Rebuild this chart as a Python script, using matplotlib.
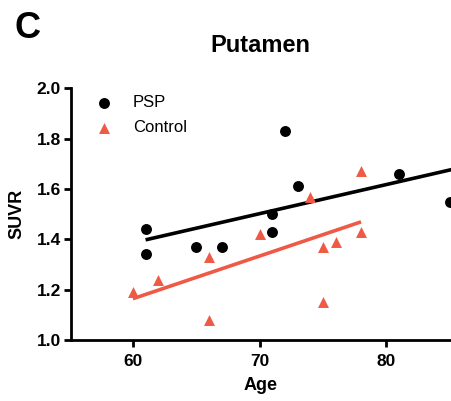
import numpy as np
import matplotlib
matplotlib.use("Agg")
import matplotlib.pyplot as plt

plt.rcParams["font.family"] = ["Liberation Sans", "DejaVu Sans"]

# PSP group
psp_age = [61, 61, 65, 67, 71, 71, 72, 73, 81, 85]
psp_suvr = [1.44, 1.34, 1.37, 1.37, 1.50, 1.43, 1.83, 1.61, 1.66, 1.55]

# Control group
ctl_age = [60, 62, 66, 66, 70, 74, 75, 75, 76, 78, 78]
ctl_suvr = [1.19, 1.24, 1.33, 1.08, 1.42, 1.57, 1.37, 1.15, 1.39, 1.67, 1.43]

x_ticks = [60, 70, 80]
y_ticks = [1.0, 1.2, 1.4, 1.6, 1.8, 2.0]

RED = "#EE5A45"

fig = plt.figure(figsize=(4.51, 4.01), dpi=100)
ax = fig.add_axes([0.157, 0.152, 0.843, 0.628])

ax.scatter(psp_age, psp_suvr, s=62, c="black", marker="o", zorder=3,
           label="PSP", linewidths=0)
ax.scatter(ctl_age, ctl_suvr, s=62, c=RED, marker="^", zorder=3,
           label="Control", linewidths=0)

# Linear regression fits over each group's age range
for ages, vals, col, x_end in ((psp_age, psp_suvr, "black", 86),
                               (ctl_age, ctl_suvr, RED, max(ctl_age))):
    slope, icpt = np.polyfit(ages, vals, 1)
    xs = np.array([min(ages), x_end])
    ax.plot(xs, slope * xs + icpt, color=col, lw=2.6, zorder=2,
            solid_capstyle="butt")

ax.set_xlim(55.1, 85.1)
ax.set_ylim(1.0, 2.0)
ax.set_xticks(x_ticks)
ax.set_yticks(y_ticks)
ax.set_yticklabels([f"{v:.1f}" for v in y_ticks])

for s in ("top", "right"):
    ax.spines[s].set_visible(False)
for s in ("left", "bottom"):
    ax.spines[s].set_linewidth(2.0)
ax.tick_params(direction="out", length=5, width=2.0, labelsize=12.5)
ax.tick_params(axis="x", pad=5)
ax.tick_params(axis="y", pad=2)
for lab in ax.get_xticklabels() + ax.get_yticklabels():
    lab.set_fontweight("bold")

ax.set_xlabel("Age", fontsize=13, fontweight="bold", labelpad=6)
ax.set_ylabel("SUVR", fontsize=13, fontweight="bold", labelpad=8)

leg = ax.legend(loc="upper left", bbox_to_anchor=(0.017, 1.012), frameon=False,
                fontsize=12, handletextpad=0.75, labelspacing=0.6,
                borderaxespad=0.2, scatterpoints=1)

fig.text(0.577, 0.886, "Putamen", ha="center", va="center",
         fontsize=17, fontweight="bold")
fig.text(0.033, 0.928, "C", ha="left", va="center",
         fontsize=26, fontweight="bold")

fig.savefig("out.png", dpi=100)
